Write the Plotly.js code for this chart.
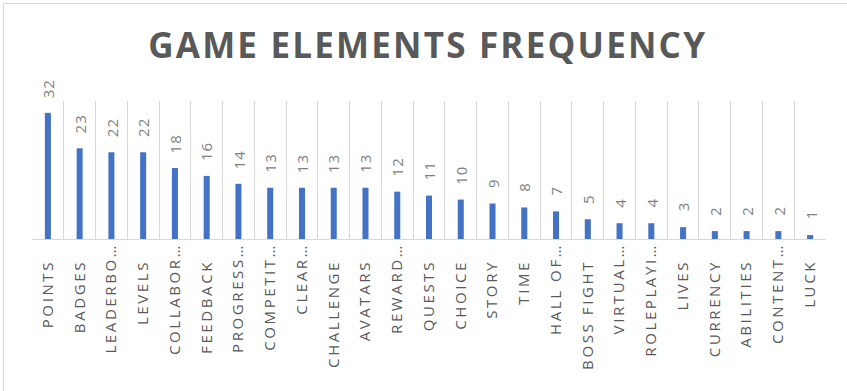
<!DOCTYPE html>
<html>
<head>
<meta charset="utf-8">
<script src="https://cdn.plot.ly/plotly-3.0.1.min.js"></script>
<style>
  html, body { margin: 0; padding: 0; background: #fff; }
  #chart { width: 847px; height: 391px; }
  #chart .xtick text, #chart .x2tick text { letter-spacing: 2.6px; }
  #chart .gtitle { letter-spacing: 2.2px; }
  #chart .annotation-text { letter-spacing: 1px; }
</style>
</head>
<body>
<div id="chart"></div>
<script>
// Game elements and how often each one appears
const categories = [
  "POINTS", "BADGES", "LEADERBO…", "LEVELS", "COLLABOR…", "FEEDBACK",
  "PROGRESS…", "COMPETIT…", "CLEAR…", "CHALLENGE", "AVATARS", "REWARD…",
  "QUESTS", "CHOICE", "STORY", "TIME", "HALL OF…", "BOSS FIGHT",
  "VIRTUAL…", "ROLEPLAYI…", "LIVES", "CURRENCY", "ABILITIES", "CONTENT…", "LUCK"
];
const frequency = [32, 23, 22, 22, 18, 16, 14, 13, 13, 13, 13, 12, 11, 10, 9, 8, 7, 5, 4, 4, 3, 2, 2, 2, 1];

const FONT = '"Open Sans", "DejaVu Sans", sans-serif';

// clipped names (ending in an ellipsis) sit a little closer to the axis,
// so they get their own overlaid axis with a smaller standoff
const isClipped = s => s.endsWith('…');
const clippedNames = categories.filter(isClipped);
const clippedFreq = categories.map((c, i) => frequency[i]).filter((v, i) => isClipped(categories[i]));
const mainTickText = categories.map(c => (isClipped(c) ? '' : c));

const bars = {
  type: 'bar',
  x: categories,
  y: frequency,
  marker: { color: '#4472C4' },
  hoverinfo: 'x+y'
};

// invisible companion trace so the overlaid label axis is laid out
const clippedAnchor = {
  type: 'scatter',
  mode: 'markers',
  x: clippedNames,
  y: clippedFreq,
  xaxis: 'x2',
  yaxis: 'y',
  marker: { opacity: 0, size: 1 },
  hoverinfo: 'skip'
};

// value labels, rotated, sitting above each bar
const valueLabels = categories.map((c, i) => ({
  x: c,
  y: frequency[i],
  xref: 'x',
  yref: 'y',
  text: String(frequency[i]),
  textangle: -90,
  showarrow: false,
  yanchor: 'bottom',
  xanchor: 'center',
  yshift: 14,
  font: { family: FONT, size: 15, color: '#7f7f7f' }
}));

const tickFont = { family: FONT, size: 15, color: '#595959' };

const layout = {
  width: 847,
  height: 391,
  paper_bgcolor: '#ffffff',
  plot_bgcolor: '#ffffff',
  margin: { l: 32, r: 21, t: 101, b: 152, pad: 0 },
  title: {
    text: '<b>GAME ELEMENTS FREQUENCY</b>',
    font: { family: FONT, size: 35, color: '#595959' },
    x: 0.505,
    xanchor: 'center',
    y: 0.882,
    yanchor: 'middle'
  },
  bargap: 0.81,
  showlegend: false,
  xaxis: {
    type: 'category',
    categoryorder: 'array',
    categoryarray: categories,
    range: [-0.5, categories.length - 0.5],
    tickson: 'boundaries',
    showgrid: true,
    gridcolor: '#d9d9d9',
    gridwidth: 1,
    showline: true,
    linecolor: '#d9d9d9',
    linewidth: 1,
    ticks: '',
    tickangle: -90,
    tickmode: 'array',
    tickvals: categories,
    ticktext: mainTickText,
    ticklabelstandoff: 14,
    tickfont: tickFont,
    fixedrange: true
  },
  xaxis2: {
    type: 'category',
    categoryorder: 'array',
    categoryarray: categories,
    range: [-0.5, categories.length - 0.5],
    overlaying: 'x',
    anchor: 'y',
    side: 'bottom',
    showgrid: false,
    showline: false,
    zeroline: false,
    ticks: '',
    tickangle: -90,
    tickmode: 'array',
    tickvals: clippedNames,
    ticktext: clippedNames,
    ticklabelstandoff: 0,
    tickfont: tickFont,
    fixedrange: true
  },
  yaxis: {
    range: [0, 35],
    visible: false,
    showgrid: false,
    zeroline: false,
    fixedrange: true
  },
  annotations: valueLabels,
  shapes: [
    // chart-area frame
    { type: 'rect', xref: 'paper', yref: 'paper',
      x0: -0.0359, x1: 1.1, y0: -1.2, y1: 1.7065,
      line: { color: '#d9d9d9', width: 1 } }
  ]
};

Plotly.newPlot('chart', [bars, clippedAnchor], layout, { displayModeBar: false, staticPlot: true });
</script>
</body>
</html>
